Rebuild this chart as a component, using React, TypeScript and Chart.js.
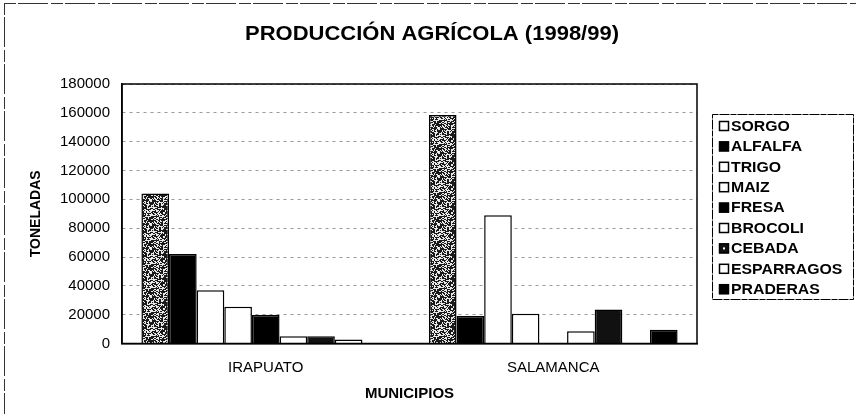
import React, { useEffect, useRef } from "react";
import { Chart, registerables } from "chart.js";

Chart.register(...registerables);

const TITLE = "PRODUCCIÓN AGRÍCOLA (1998/99)";
const Y_TITLE = "TONELADAS";
const X_TITLE = "MUNICIPIOS";
const MUNICIPIOS = ["IRAPUATO", "SALAMANCA"];

const CULTIVOS = ["SORGO", "ALFALFA", "TRIGO", "MAIZ", "FRESA", "BROCOLI", "CEBADA", "ESPARRAGOS", "PRADERAS"];

const SORGO = [104000, 158500];
const ALFALFA = [62000, 19000];
const TRIGO = [37000, 89000];
const MAIZ = [25500, 20600];
const FRESA = [19700, 0];
const BROCOLI = [5000, 8500];
const CEBADA = [5000, 23600];
const ESPARRAGOS = [2800, 0];
const PRADERAS = [0, 9500];

const SERIES = [SORGO, ALFALFA, TRIGO, MAIZ, FRESA, BROCOLI, CEBADA, ESPARRAGOS, PRADERAS];
const FILLS = ["stipple", "#000", "#fff", "#fff", "#000", "#fff", "#111", "#fff", "#000"];

const Y_MIN = 0;
const Y_MAX = 180000;
const Y_STEP = 20000;

const FONT = "'Liberation Sans', Arial, sans-serif";

function makeStipple(): CanvasPattern | string {
  const c = document.createElement("canvas");
  c.width = 24;
  c.height = 24;
  const g = c.getContext("2d");
  if (!g) return "#666";
  g.fillStyle = "#e8e8e8";
  g.fillRect(0, 0, 24, 24);
  g.fillStyle = "#1a1a1a";
  for (let y = 0; y < 24; y++) {
    for (let x = 0; x < 24; x++) {
      const h = ((x * 73856093) ^ (y * 19349663) ^ (x * y * 83492791)) >>> 0;
      if (h % 100 < 58) g.fillRect(x, y, 1, 1);
    }
  }
  const p = g.createPattern(c, "repeat");
  return p || "#666";
}

const framePlugin = {
  id: "framePlugin",
  beforeDraw(chart: any) {
    const { ctx, width, height } = chart;
    ctx.save();
    ctx.fillStyle = "#fff";
    ctx.fillRect(0, 0, width, height);
    ctx.restore();
  },
  afterDraw(chart: any) {
    const { ctx, chartArea } = chart;
    ctx.save();
    // title (slightly widened like the scanned original)
    ctx.fillStyle = "#000";
    ctx.font = `bold 20px ${FONT}`;
    ctx.textAlign = "center";
    ctx.textBaseline = "middle";
    ctx.save();
    ctx.translate(432, 34);
    ctx.scale(1.1, 1);
    ctx.fillText(TITLE, 0, 0);
    ctx.restore();

    // plot frame
    ctx.strokeStyle = "#000";
    ctx.lineWidth = 1.5;
    ctx.strokeRect(chartArea.left, chartArea.top, chartArea.right - chartArea.left, chartArea.bottom - chartArea.top);
    // page edge lines (scan)
    ctx.lineWidth = 1;
    ctx.strokeStyle = "#333";
    ctx.setLineDash([12, 2, 30, 3]);
    ctx.beginPath();
    ctx.moveTo(4, 3.5);
    ctx.lineTo(856, 3.5);
    ctx.moveTo(4.5, 3);
    ctx.lineTo(4.5, 414);
    ctx.stroke();
    ctx.setLineDash([]);

    // legend
    const bx = 712.5, by = 114.5, bw = 141, bh = 185;
    ctx.strokeStyle = "#000";
    ctx.lineWidth = 1;
    ctx.setLineDash([6, 1, 10, 1]);
    ctx.strokeRect(bx, by, bw, bh);
    ctx.setLineDash([]);
    ctx.font = `bold 14px ${FONT}`;
    ctx.textBaseline = "middle";
    ctx.textAlign = "left";
    chart.data.datasets.forEach((ds: any, i: number) => {
      const cy = 126 + i * 20.4;
      const fill = FILLS[i] === "stipple" ? "#fff" : FILLS[i];
      ctx.fillStyle = fill;
      ctx.fillRect(719, cy - 5, 10, 10);
      ctx.strokeStyle = "#000";
      ctx.lineWidth = 1.5;
      ctx.strokeRect(719.5, cy - 4.5, 9, 9);
      if (CULTIVOS[i] === "CEBADA") {
        ctx.fillStyle = "#fff";
        ctx.fillRect(723, cy - 1, 2, 2);
      }
      ctx.fillStyle = "#000";
      ctx.save();
      ctx.translate(731, cy + 1);
      ctx.scale(1.13, 1);
      ctx.fillText(ds.label, 0, 0);
      ctx.restore();
    });
    ctx.restore();
  },
};

export default function App() {
  const ref = useRef<HTMLCanvasElement | null>(null);

  useEffect(() => {
    document.body.style.margin = "0";
    const canvas = ref.current;
    if (!canvas) return;
    const stipple = makeStipple();
    const datasets = CULTIVOS.map((name, i) => ({
      label: name,
      data: SERIES[i],
      backgroundColor: FILLS[i] === "stipple" ? stipple : FILLS[i],
      borderColor: "#000",
      borderWidth: 1.5,
      categoryPercentage: 0.865,
      barPercentage: 1,
    }));
    const chart = new Chart(canvas, {
      type: "bar",
      data: { labels: MUNICIPIOS, datasets },
      options: {
        animation: false,
        responsive: true,
        maintainAspectRatio: false,
        layout: { padding: { left: 0, right: 159, top: 84, bottom: 0 } },
        plugins: {
          legend: { display: false },
          tooltip: { enabled: false },
          title: { display: false },
        },
        scales: {
          x: {
            grid: { display: false, drawTicks: false },
            border: { display: true, color: "#000", width: 1.5 },
            ticks: {
              color: "#000",
              padding: 15,
              font: { family: FONT, size: 15 },
            },
            title: {
              display: true,
              text: X_TITLE,
              color: "#000",
              font: { family: FONT, size: 15, weight: "bold" },
              padding: { top: 0, bottom: 11 },
            },
            afterFit: (scale: any) => {
              scale.height = 70.5;
            },
          },
          y: {
            min: Y_MIN,
            max: Y_MAX,
            grid: { display: true, color: "#999", drawTicks: false, lineWidth: 1 },
            border: { display: true, color: "#000", width: 1.5, dash: [3, 4] },
            ticks: {
              stepSize: Y_STEP,
              color: "#000",
              padding: 12,
              font: { family: FONT, size: 15 },
              callback: (v: any) => String(v),
            },
            title: {
              display: true,
              text: Y_TITLE,
              color: "#000",
              font: { family: FONT, size: 14, weight: "bold" },
              padding: { top: 28, bottom: 0 },
            },
            afterFit: (scale: any) => {
              scale.width = 122;
            },
          },
        },
      },
      plugins: [framePlugin],
    });
    return () => chart.destroy();
  }, []);

  return (
    <div style={{ width: 856, height: 414, position: "relative" }}>
      <canvas ref={ref} />
    </div>
  );
}
